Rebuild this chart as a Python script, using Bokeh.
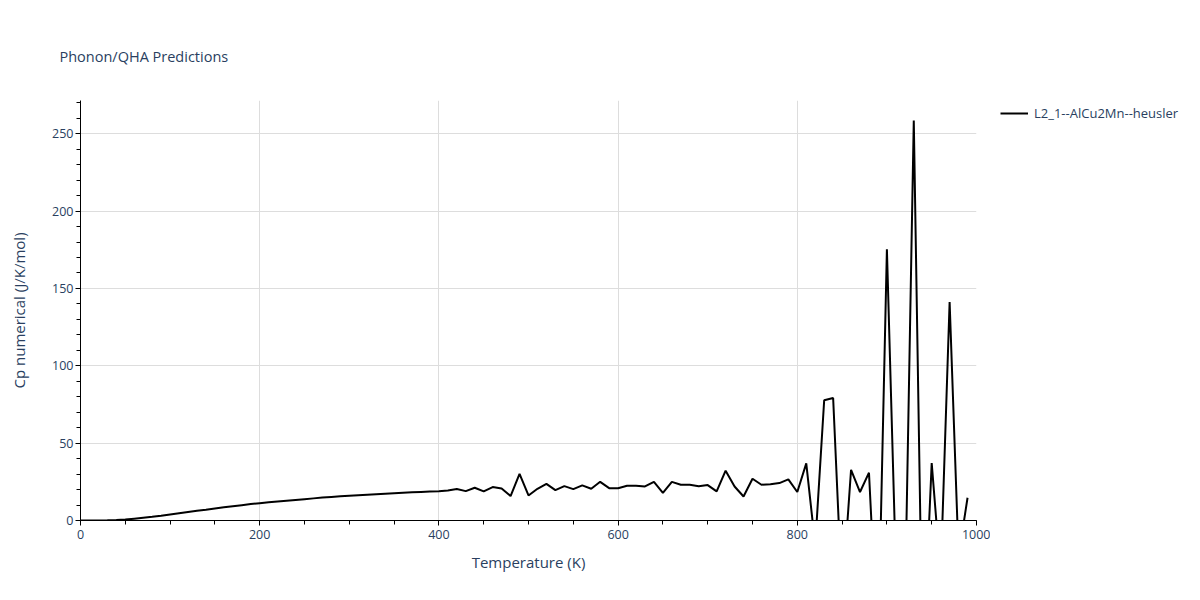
from bokeh.plotting import figure
from bokeh.models import Range1d, SingleIntervalTicker, FixedTicker, Legend, LegendItem, Title
from bokeh.layouts import row
from bokeh.embed import file_html
from bokeh.resources import INLINE

temperature = [0, 10, 20, 30, 40, 50, 60, 70, 80, 90,
               100, 110, 120, 130, 140, 150, 160, 170, 180, 190,
               200, 210, 220, 230, 240, 250, 260, 270, 280, 290,
               300, 310, 320, 330, 340, 350, 360, 370, 380, 390,
               400, 410, 420, 430, 440, 450, 460, 470, 480, 490,
               500, 510, 520, 530, 540, 550, 560, 570, 580, 590,
               600, 610, 620, 630, 640, 650, 660, 670, 680, 690,
               700, 710, 720, 730, 740, 750, 760, 770, 780, 790,
               800, 810, 820, 830, 840, 850, 860, 870, 880, 890,
               900, 910, 920, 930, 940, 950, 960, 970, 980, 990]

cp_numerical = [0.0, 0.0, 0.02, 0.1, 0.3, 0.6, 1.2, 1.8, 2.4, 3.1,
                3.9, 4.7, 5.5, 6.3, 7.0, 7.8, 8.5, 9.2, 9.9, 10.6,
                11.2, 11.8, 12.3, 12.8, 13.3, 13.8, 14.3, 14.8, 15.2, 15.6,
                16.0, 16.4, 16.7, 17.0, 17.3, 17.6, 17.9, 18.2, 18.5, 18.7,
                18.9, 19.4, 20.3, 19.0, 21.2, 18.8, 21.6, 20.7, 15.8, 30.2,
                16.2, 20.5, 23.7, 19.6, 22.2, 20.3, 22.7, 20.5, 25.0, 20.9,
                20.9, 22.5, 22.5, 22.0, 25.0, 17.9, 25.0, 23.1, 23.1, 22.2,
                22.9, 18.8, 32.2, 22.0, 15.5, 27.0, 23.1, 23.5, 24.2, 26.6,
                18.4, 36.9, -16.0, 77.7, 79.2, -50.0, 32.8, 18.4, 30.9, -85.0,
                175.3, -30.0, -60.0, 258.6, -95.0, 37.1, -35.0, 141.2, -23.0, 14.7]

series_name = "L2_1--AlCu2Mn--heusler"
title_text = "Phonon/QHA Predictions"
x_label = "Temperature (K)"
y_label = "Cp numerical (J/K/mol)"

FONT = "Open Sans"
TXT = "#2a3f5f"
GRID = "#dddddd"

p = figure(width=990, height=584, output_backend="svg", toolbar_location=None,
           x_range=Range1d(0, 1000), y_range=Range1d(0, 271.5),
           min_border_left=80, min_border_right=14, min_border_top=100, min_border_bottom=64,
           title=None)
p.background_fill_color = "white"
p.border_fill_color = "white"
p.outline_line_color = None

r = p.line(temperature, cp_numerical, line_color="black", line_width=2)

for ax in (p.xaxis[0], p.yaxis[0]):
    ax.axis_line_color = "black"
    ax.axis_line_width = 1
    ax.major_tick_line_color = "black"
    ax.minor_tick_line_color = "black"
    ax.major_tick_in = 0
    ax.minor_tick_in = 0
    ax.major_tick_out = 5
    ax.minor_tick_out = 4
    ax.major_label_text_font = FONT
    ax.major_label_text_font_size = "12.5px"
    ax.major_label_text_color = TXT
    ax.axis_label_text_font = FONT
    ax.axis_label_text_font_size = "15px"
    ax.axis_label_text_font_style = "normal"
    ax.axis_label_text_color = TXT

p.xaxis[0].ticker = SingleIntervalTicker(interval=200, num_minor_ticks=4)
p.yaxis[0].ticker = SingleIntervalTicker(interval=50, num_minor_ticks=5)
p.xaxis[0].axis_label = x_label
p.yaxis[0].axis_label = y_label
p.xaxis[0].major_label_standoff = 4
p.yaxis[0].major_label_standoff = 2
p.xaxis[0].axis_label_standoff = 10
p.yaxis[0].axis_label_standoff = 20

p.xgrid[0].ticker = FixedTicker(ticks=[200, 400, 600, 800])
p.ygrid[0].ticker = FixedTicker(ticks=[50, 100, 150, 200, 250])
p.xgrid[0].grid_line_color = GRID
p.ygrid[0].grid_line_color = GRID

title = Title(text=title_text, text_font=FONT, text_font_size="14.5px",
              text_font_style="normal", text_color=TXT, align="left",
              vertical_align="top", offset=-21, standoff=65)
p.add_layout(title, "above")

# legend panel to the right of the plot
q = figure(width=194, height=584, output_backend="svg", toolbar_location=None,
           x_range=Range1d(0, 1), y_range=Range1d(5000, 5001),
           x_axis_location=None, y_axis_location=None, min_border=0)
q.outline_line_color = None
q.grid.visible = False
q.background_fill_color = "white"
q.border_fill_color = "white"
sample = q.line(temperature, cp_numerical, line_color="black", line_width=2)

legend = Legend(items=[LegendItem(label=series_name, renderers=[sample])],
                location=(10, 398), margin=0, padding=0, spacing=0,
                glyph_width=28, glyph_height=16, label_height=16, label_standoff=6,
                label_text_font=FONT, label_text_font_size="13px", label_text_color=TXT,
                border_line_alpha=0, background_fill_alpha=0)
q.add_layout(legend, "center")

layout = row(p, q, spacing=0)
open("out.html", "w").write(file_html(layout, INLINE))
